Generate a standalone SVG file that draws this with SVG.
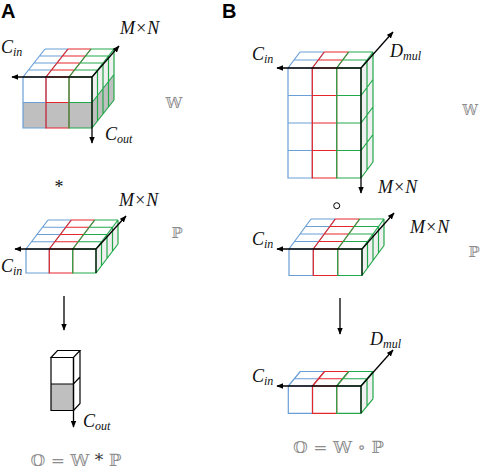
<svg xmlns="http://www.w3.org/2000/svg" width="484" height="471" viewBox="0 0 484 471">
<style>
.b{fill:none;stroke:#6a9fd6;stroke-width:1.2}
.r{fill:none;stroke:#e5262b;stroke-width:1.2}
.g{fill:none;stroke:#22a84a;stroke-width:1.2}
.k{fill:none;stroke:#000;stroke-width:1.2}
.ax{fill:none;stroke:#000;stroke-width:1.3;marker-end:url(#ah)}
.sh{fill:#bfbfbf;stroke:none}
.sd{fill:#f0f0f0;stroke:none}
.lb{font-family:"Liberation Serif",serif;font-style:italic;font-size:18px;fill:#111}
.sub{font-size:12px}
.ds{font-family:"DejaVu Serif","DejaVu Sans",serif;fill:#8c8c8c}
.pl{font-family:"Liberation Sans",Arial,sans-serif;font-weight:bold;font-size:20px;fill:#000}
</style>
<defs>
<marker id="ah" viewBox="0 0 10 8" refX="9" refY="4" markerWidth="7" markerHeight="5.6" markerUnits="userSpaceOnUse" orient="auto"><path d="M0,0 L10,4 L0,8 z" fill="#000"/></marker>
</defs>
<rect width="484" height="471" fill="#fff"/>

<text class="pl" x="1" y="18">A</text>
<text class="pl" x="222" y="18">B</text>

<!-- Panel A: W -->
<g id="a-w">
<rect class="sh" x="23" y="102.5" width="69" height="25.5"/>
<polygon class="sh" points="92,102.5 114,74.5 114,100 92,128"/>
<polygon class="sd" points="92,77 114,49 114,74.5 92,102.5"/>
<path class="b" d="M23,77 H46 M28.5,70 H51.5 M34,63 H57 M39.5,56 H62.5 M45,49 H68 M23,77 L45,49 M46,77 L68,49 M23,77 V128 H46 V77 Z M23,102.5 H46"/>
<path class="r" d="M46,77 H69 M51.5,70 H74.5 M57,63 H80 M62.5,56 H85.5 M68,49 H91 M46,77 L68,49 M69,77 L91,49 M46,77 V128 H69 V77 Z M46,102.5 H69"/>
<path class="g" d="M69,77 H92 M74.5,70 H97.5 M80,63 H103 M85.5,56 H108.5 M91,49 H114 M69,77 L91,49 M92,77 L114,49 M69,77 V128 H92 V77 Z M69,102.5 H92 M97.5,70 V121 M103,63 V114 M108.5,56 V107 M114,49 V100 M92,102.5 L114,74.5 M92,128 L114,100"/>
<path class="ax" d="M92,77 H12"/>
<path class="ax" d="M92,77 L119,46"/>
<path class="ax" d="M92,77 V143"/>
<text class="lb" x="1" y="53">C<tspan class="sub" dy="3">in</tspan></text>
<text class="lb" x="120" y="34">M×N</text>
<text class="lb" x="105" y="140">C<tspan class="sub" dy="3">out</tspan></text>
<text class="ds" x="174" y="108" font-size="15" text-anchor="middle">𝕎</text>
</g>

<text class="lb" x="59" y="192.5" font-style="normal" font-size="16" text-anchor="middle" style="font-style:normal">*</text>

<!-- Panel A: P -->
<g id="a-p">
<polygon class="sd" points="96,249 118,220 118,244 96,273"/>
<path class="b" d="M26,249 H49.3 M31.5,241.75 H54.8 M37,234.5 H60.3 M42.5,227.25 H65.8 M48,220 H71.3 M26,249 L48,220 M49.3,249 L71.3,220 M26,249 V273 H49.3 V249 Z"/>
<path class="r" d="M49.3,249 H72.7 M54.8,241.75 H78.2 M60.3,234.5 H83.7 M65.8,227.25 H89.2 M71.3,220 H94.7 M49.3,249 L71.3,220 M72.7,249 L94.7,220 M49.3,249 V273 H72.7 V249 Z"/>
<path class="g" d="M72.7,249 H96 M78.2,241.75 H101.5 M83.7,234.5 H107 M89.2,227.25 H112.5 M94.7,220 H118 M72.7,249 L94.7,220 M96,249 L118,220 M72.7,249 V273 H96 V249 Z M101.5,241.75 V265.75 M107,234.5 V258.5 M112.5,227.25 V251.25 M118,220 V244 M96,273 L118,244"/>
<path class="k" d="M96,249 V273"/>
<path class="ax" d="M96,249 H15"/>
<path class="ax" d="M96,249 L126,216"/>
<text class="lb" x="1" y="272">C<tspan class="sub" dy="3">in</tspan></text>
<text class="lb" x="119" y="206">M×N</text>
<text class="ds" x="177" y="238" font-size="15" text-anchor="middle">ℙ</text>
</g>

<!-- Panel A: O -->
<g id="a-o">
<rect class="sh" x="51" y="384" width="22.5" height="26.5"/>
<path class="k" d="M51,357.5 L57.5,350.5 H80 L73.5,357.5 Z M51,357.5 V410.5 H73.5 V357.5 M73.5,410.5 L80,403.5 V350.5 M51,384 H73.5 L80,377"/>
<path class="ax" d="M73.5,357.5 V427"/>
<text class="lb" x="83" y="427">C<tspan class="sub" dy="3">out</tspan></text>
</g>
<text class="ds" x="76" y="466" font-size="17" text-anchor="middle">𝕆 = 𝕎 <tspan fill="#333">*</tspan> ℙ</text>

<!-- Panel B: W -->
<g id="b-w">
<polygon class="sd" points="361,68 373,52 373,162 361,178"/>
<path class="b" d="M288,68 H312.3 M294,60 H318.3 M300,52 H324.3 M288,68 L300,52 M312.3,68 L324.3,52 M288,68 V178 H312.3 V68 Z M288,95.5 H312.3 M288,123 H312.3 M288,150.5 H312.3"/>
<path class="r" d="M312.3,68 H336.7 M318.3,60 H342.7 M324.3,52 H348.7 M312.3,68 L324.3,52 M336.7,68 L348.7,52 M312.3,68 V178 H336.7 V68 Z M312.3,95.5 H336.7 M312.3,123 H336.7 M312.3,150.5 H336.7"/>
<path class="g" d="M336.7,68 H361 M342.7,60 H367 M348.7,52 H373 M336.7,68 L348.7,52 M361,68 L373,52 M336.7,68 V178 H361 V68 Z M336.7,95.5 H361 M336.7,123 H361 M336.7,150.5 H361 M367,60 V170 M373,52 V162 M361,95.5 L373,79.5 M361,123 L373,107 M361,150.5 L373,134.5 M361,178 L373,162"/>
<path class="ax" d="M361,68 H277"/>
<path class="ax" d="M361,68 L393,32"/>
<path class="ax" d="M361,68 V193"/>
<text class="lb" x="252" y="60">C<tspan class="sub" dy="3">in</tspan></text>
<text class="lb" x="390" y="57">D<tspan class="sub" dy="3">mul</tspan></text>
<text class="lb" x="378" y="193">M×N</text>
<text class="ds" x="470" y="115" font-size="14" text-anchor="middle">𝕎</text>
</g>

<circle cx="336.7" cy="205.7" r="3" fill="none" stroke="#000" stroke-width="1"/>

<!-- Panel B: P -->
<g id="b-p">
<polygon class="sd" points="362,249 384,219 384,245.5 362,275.5"/>
<path class="b" d="M289,249 H313.3 M294.5,241.5 H318.8 M300,234 H324.3 M305.5,226.5 H329.8 M311,219 H335.3 M289,249 L311,219 M313.3,249 L335.3,219 M289,249 V275.5 H313.3 V249 Z"/>
<path class="r" d="M313.3,249 H337.7 M318.8,241.5 H343.2 M324.3,234 H348.7 M329.8,226.5 H354.2 M335.3,219 H359.7 M313.3,249 L335.3,219 M337.7,249 L359.7,219 M313.3,249 V275.5 H337.7 V249 Z"/>
<path class="g" d="M337.7,249 H362 M343.2,241.5 H367.5 M348.7,234 H373 M354.2,226.5 H378.5 M359.7,219 H384 M337.7,249 L359.7,219 M362,249 L384,219 M337.7,249 V275.5 H362 V249 Z M367.5,241.5 V268 M373,234 V260.5 M378.5,226.5 V253 M384,219 V245.5 M362,275.5 L384,245.5"/>
<path class="k" d="M362,249 V275.5"/>
<path class="ax" d="M362,249 H277"/>
<path class="ax" d="M362,249 L394,213"/>
<text class="lb" x="252" y="245">C<tspan class="sub" dy="3">in</tspan></text>
<text class="lb" x="410" y="233">M×N</text>
<text class="ds" x="474" y="257" font-size="15" text-anchor="middle">ℙ</text>
</g>

<!-- Panel B: O -->
<g id="b-o">
<polygon class="sd" points="361,386 373,371.5 373,398.8 361,413.3"/>
<path class="b" d="M288.3,386 H312.5 M294.3,378.75 H318.5 M300.3,371.5 H324.5 M288.3,386 L300.3,371.5 M312.5,386 L324.5,371.5 M288.3,386 V413.3 H312.5 V386 Z"/>
<path class="r" d="M312.5,386 H336.7 M318.5,378.75 H342.7 M324.5,371.5 H348.7 M312.5,386 L324.5,371.5 M336.7,386 L348.7,371.5 M312.5,386 V413.3 H336.7 V386 Z"/>
<path class="g" d="M336.7,386 H361 M342.7,378.75 H367 M348.7,371.5 H373 M336.7,386 L348.7,371.5 M361,386 L373,371.5 M336.7,386 V413.3 H361 V386 Z M367,378.75 V406 M373,371.5 V398.8 M361,413.3 L373,398.8"/>
<path class="k" d="M361,386 V413.3"/>
<path class="ax" d="M361,386 H277"/>
<path class="ax" d="M361,386 L393,350"/>
<text class="lb" x="252" y="382">C<tspan class="sub" dy="3">in</tspan></text>
<text class="lb" x="370" y="345">D<tspan class="sub" dy="3">mul</tspan></text>
</g>
<text class="ds" x="338.5" y="453" font-size="17" text-anchor="middle">𝕆 = 𝕎 ∘ ℙ</text>

<g id="connectors">
<path class="ax" d="M64,296 V330"/>
<path class="ax" d="M340,298 V334"/>
</g>
</svg>
